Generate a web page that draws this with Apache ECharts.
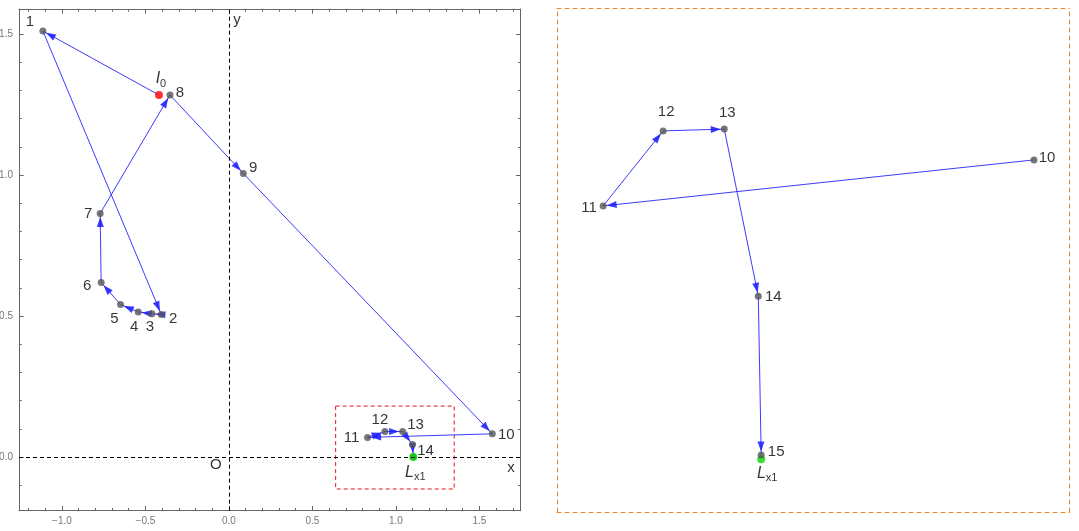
<!DOCTYPE html>
<html>
<head>
<meta charset="utf-8">
<script src="https://cdn.jsdelivr.net/npm/echarts@6/dist/echarts.min.js"></script>
<style>
  html, body { margin: 0; padding: 0; background: #fff; }
  #chart { width: 1079px; height: 531px; }
</style>
</head>
<body>
<div id="chart"></div>
<script>
// points of the path, numbered 1..15
const pointNames = ['1', '2', '3', '4', '5', '6', '7', '8', '9', '10', '11', '12', '13', '14', '15']
const pointX = [-1.114, -0.405, -0.461, -0.543, -0.649, -0.765, -0.771, -0.353, 0.086, 1.577, 0.830, 0.934, 1.040, 1.099, 1.104]
const pointY = [1.511, 0.506, 0.508, 0.515, 0.541, 0.619, 0.864, 1.284, 1.006, 0.0826, 0.0699, 0.0906, 0.0911, 0.0450, 0.0012]
// start point I0 and target point Lx1
const startPoint = [-0.419, 1.284]
const targetPoint = [1.104, 0]

// tick labels of the left frame
const xMajorTicks = [-1.0, -0.5, 0.0, 0.5, 1.0, 1.5]
const yMajorTicks = [0.0, 0.5, 1.0, 1.5]

// axis letters in the left plot
const axisNoteText = ['y', 'x', 'O']
const axisNoteX = [0.048, 1.689, -0.078]
const axisNoteY = [1.55, -0.039, -0.028]

// dashed box that marks the zoomed region
const zoomBoxFrom = [0.639, 0.181]
const zoomBoxTo = [1.349, -0.113]

// label offsets (px), left plot and right plot
const labelOffsetLeft = [[-13, -9], [12, 4], [-2, 13], [-4, 15], [-6, 14], [-14, 3], [-12, 0], [10, -2], [10, -6], [14, 1], [-16, 0], [-5, -12], [13, -7], [13, 6], null]
const labelOffsetRight = { 10: [13, -2], 11: [-14, 2], 12: [3, -19], 13: [3, -16], 14: [15, 1], 15: [15, -3] }

const minorTicks = (lo, hi, majors) => {
  const out = []
  for (let i = Math.ceil(lo * 10); i <= Math.floor(hi * 10); i++) {
    const v = i / 10
    if (!majors.some(m => Math.abs(m - v) < 1e-9)) out.push(v)
  }
  return out
}

const frameColor = '#666'
const X0 = [-1.257, 1.747]
const Y0 = [-0.19, 1.589]
const X1 = [0.750, 1.6385]
const Y1 = [-0.01454, 0.1245]

const fmt = v => (v < 0 ? '\u2212' + Math.abs(v).toFixed(1) : v.toFixed(1))

function frameAxis (pos, range, majors, isMinor, showLabel) {
  return {
    type: 'value',
    gridIndex: 0,
    position: pos,
    min: range[0],
    max: range[1],
    splitLine: { show: false },
    axisLine: { show: !isMinor, onZero: false, lineStyle: { color: frameColor, width: 1 } },
    axisTick: {
      show: true,
      inside: true,
      length: isMinor ? 2.7 : 4.7,
      customValues: isMinor ? minorTicks(range[0], range[1], majors) : majors,
      lineStyle: { color: frameColor, width: 1 }
    },
    axisLabel: {
      show: showLabel,
      customValues: majors,
      formatter: fmt,
      color: '#777',
      fontSize: 10,
      fontFamily: 'Liberation Sans, Arial, sans-serif',
      margin: 6
    }
  }
}

function boxAxis (pos, range) {
  return {
    type: 'value',
    gridIndex: 1,
    position: pos,
    min: range[0],
    max: range[1],
    splitLine: { show: false },
    axisTick: { show: false },
    axisLabel: { show: false },
    axisLine: { show: true, onZero: false, lineStyle: { color: '#f0861e', width: 1, type: [4, 4] } }
  }
}

// path segments I0 -> 1 -> 2 -> ... -> 15
const allPts = [startPoint].concat(pointX.map((x, i) => [x, pointY[i]]))
const segments = []
for (let i = 0; i < allPts.length - 1; i++) {
  segments.push({ coords: [allPts[i], allPts[i + 1]] })
}
const rightSegments = segments.slice(10) // 10 -> 11 ... 14 -> 15

const labelFont = { color: '#000', fontSize: 15, fontFamily: 'Liberation Sans, Arial, sans-serif' }
const subRich = {
  i: { fontStyle: 'italic', fontSize: 16, color: '#000', fontFamily: 'Liberation Sans, Arial, sans-serif' },
  s: { fontSize: 11, color: '#000', padding: [9, 0, 0, 0], fontFamily: 'Liberation Sans, Arial, sans-serif' }
}

const leftPoints = pointX.map((x, i) => ({
  name: pointNames[i],
  value: [x, pointY[i]],
  label: labelOffsetLeft[i] ? { show: true, offset: labelOffsetLeft[i] } : { show: false }
}))

const rightPoints = pointX.map((x, i) => ({
  name: pointNames[i],
  value: [x, pointY[i]],
  label: labelOffsetRight[pointNames[i]] ? { show: true, offset: labelOffsetRight[pointNames[i]] } : { show: false }
})).slice(9)

// arrowhead whose tip sits just before the end point (box is symmetric so the
// symbol centre stays on the point)
const arrowHead = 'path://M0,-13.5L0,-13.5M0,3.5L3.5,13.5L-3.5,13.5Z'

const arrowLines = (data, xi) => ({
  type: 'lines',
  coordinateSystem: 'cartesian2d',
  xAxisIndex: xi,
  yAxisIndex: xi,
  symbol: ['none', arrowHead],
  symbolSize: [0, [7, 27]],
  silent: true,
  lineStyle: { color: '#1a1aff', width: 1, opacity: 0.85, curveness: 0 },
  data: data,
  z: 2
})

const option = {
  backgroundColor: '#fff',
  animation: false,
  grid: [
    { left: 19, top: 9, right: 558.3, bottom: 20.3, outerBoundsMode: 'none', containLabel: false },
    { left: 557, top: 8, right: 9.5, bottom: 19, outerBoundsMode: 'none', containLabel: false }
  ],
  xAxis: [
    frameAxis('bottom', X0, xMajorTicks, false, true),
    frameAxis('bottom', X0, xMajorTicks, true, false),
    frameAxis('top', X0, xMajorTicks, false, false),
    frameAxis('top', X0, xMajorTicks, true, false),
    boxAxis('bottom', X1),
    boxAxis('top', X1)
  ],
  yAxis: [
    frameAxis('left', Y0, yMajorTicks, false, true),
    frameAxis('left', Y0, yMajorTicks, true, false),
    frameAxis('right', Y0, yMajorTicks, false, false),
    frameAxis('right', Y0, yMajorTicks, true, false),
    boxAxis('left', Y1),
    boxAxis('right', Y1)
  ],
  series: [
    {
      // dashed coordinate axes and zoom box
      type: 'scatter',
      xAxisIndex: 0,
      yAxisIndex: 0,
      data: [],
      silent: true,
      markLine: {
        silent: true,
        symbol: ['none', 'none'],
        label: { show: false },
        lineStyle: { color: '#000', width: 1, type: [4, 3] },
        data: [{ xAxis: 0 }, { yAxis: 0 }]
      },
      markArea: {
        silent: true,
        itemStyle: { color: 'rgba(0,0,0,0)', borderColor: '#e0151b', borderWidth: 1, borderType: [4, 3] },
        data: [[{ coord: zoomBoxFrom }, { coord: zoomBoxTo }]]
      }
    },
    arrowLines(segments, 0),
    {
      type: 'scatter',
      xAxisIndex: 0,
      yAxisIndex: 0,
      symbolSize: 7,
      itemStyle: { color: '#555' },
      label: { show: true, position: 'inside', formatter: '{b}', ...labelFont },
      data: leftPoints,
      z: 3
    },
    {
      type: 'scatter',
      xAxisIndex: 0,
      yAxisIndex: 0,
      symbolSize: 0,
      label: { show: true, position: 'inside', formatter: '{b}', ...labelFont },
      data: axisNoteText.map((t, i) => ({ name: t, value: [axisNoteX[i], axisNoteY[i]] })),
      z: 3
    },
    {
      type: 'scatter',
      xAxisIndex: 0,
      yAxisIndex: 0,
      symbolSize: 8,
      data: [
        { name: 'I0', value: startPoint, itemStyle: { color: '#ff0000' }, label: { formatter: '{i|I}{s|0}', offset: [2, -16] } },
        { name: 'Lx1', value: targetPoint, itemStyle: { color: '#00dd00' }, label: { formatter: '{i|L}{s|x1}', offset: [2, 15] } }
      ],
      label: { show: true, position: 'inside', rich: subRich },
      z: 4
    },
    arrowLines(rightSegments, 4),
    {
      type: 'scatter',
      xAxisIndex: 4,
      yAxisIndex: 4,
      symbolSize: 7,
      itemStyle: { color: '#555' },
      label: { show: true, position: 'inside', formatter: '{b}', ...labelFont },
      data: rightPoints,
      z: 3
    },
    {
      type: 'scatter',
      xAxisIndex: 4,
      yAxisIndex: 4,
      symbolSize: 8,
      data: [
        { name: 'Lx1', value: targetPoint, itemStyle: { color: '#00dd00' }, label: { formatter: '{i|L}{s|x1}', offset: [6, 14] } }
      ],
      label: { show: true, position: 'inside', rich: subRich },
      z: 2
    }
  ]
}

const chart = echarts.init(document.getElementById('chart'))
chart.setOption(option)
window.addEventListener('resize', () => {
  chart.resize()
})
</script>
</body>
</html>
